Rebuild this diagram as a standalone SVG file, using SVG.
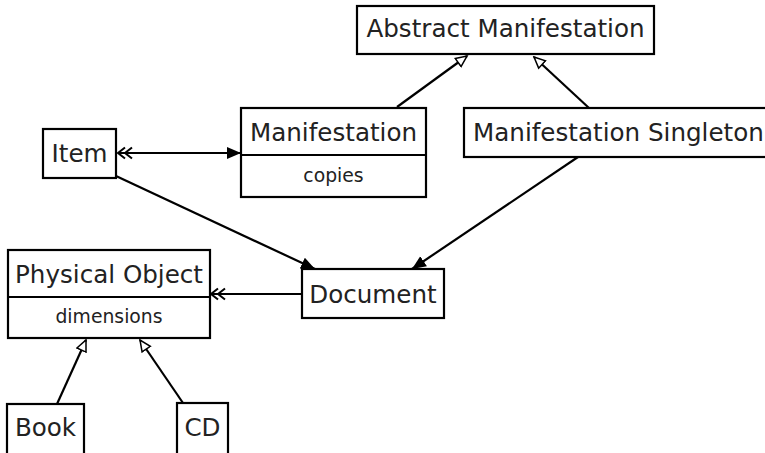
<svg xmlns="http://www.w3.org/2000/svg" width="765" height="453" viewBox="0 0 765 453">
  <style>
    .box { fill: #ffffff; stroke: #000000; stroke-width: 2.2; }
    .sep { stroke: #000000; stroke-width: 2; }
    .lbl { font-family: "DejaVu Sans", sans-serif; font-size: 24.6px; fill: #222222; text-anchor: middle; }
    .attr { font-family: "DejaVu Sans", sans-serif; font-size: 18.8px; fill: #222222; text-anchor: middle; }
    .edge { fill: none; stroke: #000000; stroke-width: 2.2; }
  </style>
  <defs>
    <marker id="filled" markerUnits="userSpaceOnUse" markerWidth="16" markerHeight="14" refX="14" refY="7" orient="auto">
      <path d="M0,1 L14,7 L0,13 z" fill="#000000"/>
    </marker>
    <marker id="hollow" markerUnits="userSpaceOnUse" markerWidth="14" markerHeight="13" refX="12" refY="6.5" orient="auto">
      <path d="M1,1.5 L12,6.5 L1,11.5 z" fill="#ffffff" stroke="#000000" stroke-width="1.5"/>
    </marker>
    <marker id="chevrons" markerUnits="userSpaceOnUse" markerWidth="18" markerHeight="14" refX="15" refY="7" orient="auto-start-reverse">
      <path d="M1,1.5 L8,7 L1,12.5 M8,1.5 L15,7 L8,12.5" fill="none" stroke="#000000" stroke-width="2"/>
    </marker>
  </defs>

  <g id="connectors">
    <line class="edge" x1="118" y1="153" x2="241" y2="153" marker-start="url(#chevrons)" marker-end="url(#filled)"/>
    <line class="edge" x1="302" y1="294" x2="211" y2="294" marker-end="url(#chevrons)"/>
    <line class="edge" x1="116" y1="176" x2="315" y2="269" marker-end="url(#filled)"/>
    <line class="edge" x1="578" y1="157" x2="412" y2="269" marker-end="url(#filled)"/>
    <line class="edge" x1="397" y1="107" x2="467" y2="56" marker-end="url(#hollow)"/>
    <line class="edge" x1="589" y1="108" x2="534" y2="57" marker-end="url(#hollow)"/>
    <line class="edge" x1="57" y1="404" x2="86" y2="340" marker-end="url(#hollow)"/>
    <line class="edge" x1="183" y1="403" x2="140" y2="340" marker-end="url(#hollow)"/>
  </g>

  <g id="abstract-manifestation">
    <rect class="box" x="357" y="6" width="297" height="48"/>
    <text class="lbl" x="505.5" y="37">Abstract Manifestation</text>
  </g>

  <g id="manifestation">
    <rect class="box" x="241" y="108" width="185" height="89"/>
    <line class="sep" x1="241" y1="155" x2="426" y2="155"/>
    <text class="lbl" x="333.5" y="141">Manifestation</text>
    <text class="attr" x="333.5" y="182">copies</text>
  </g>

  <g id="manifestation-singleton">
    <rect class="box" x="464" y="108" width="310" height="49"/>
    <text class="lbl" x="473" y="141" style="text-anchor:start">Manifestation Singleton</text>
  </g>

  <g id="item">
    <rect class="box" x="43" y="129" width="73" height="49"/>
    <text class="lbl" x="79.5" y="162">Item</text>
  </g>

  <g id="document">
    <rect class="box" x="302" y="269" width="142" height="49"/>
    <text class="lbl" x="373" y="303">Document</text>
  </g>

  <g id="physical-object">
    <rect class="box" x="8" y="250" width="202" height="88"/>
    <line class="sep" x1="8" y1="297" x2="210" y2="297"/>
    <text class="lbl" x="109" y="283">Physical Object</text>
    <text class="attr" x="109" y="323">dimensions</text>
  </g>

  <g id="book">
    <rect class="box" x="7" y="404" width="77" height="60"/>
    <text class="lbl" x="45.5" y="436">Book</text>
  </g>

  <g id="cd">
    <rect class="box" x="177" y="403" width="51" height="60"/>
    <text class="lbl" x="202.5" y="436">CD</text>
  </g>
</svg>
